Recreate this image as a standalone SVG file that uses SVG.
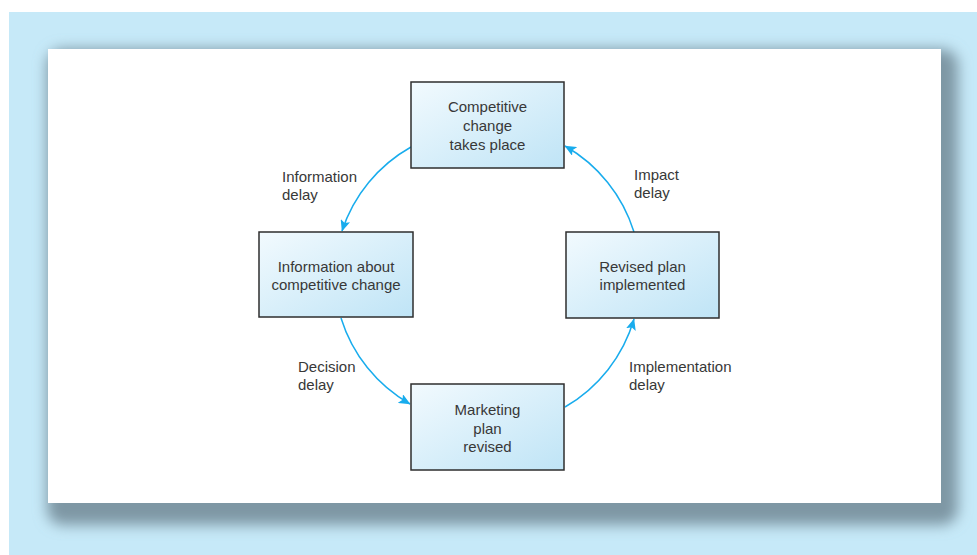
<svg xmlns="http://www.w3.org/2000/svg" width="977" height="555" viewBox="0 0 977 555">
<defs>
<linearGradient id="boxg" x1="0" y1="0" x2="1" y2="1">
<stop offset="0" stop-color="#f2fafe"/>
<stop offset="1" stop-color="#bfe4f6"/>
</linearGradient>
<filter id="blur" x="-10%" y="-10%" width="120%" height="120%">
<feGaussianBlur stdDeviation="7"/>
</filter>
<marker id="ah" viewBox="0 0 12 10" refX="11" refY="5" markerWidth="12" markerHeight="10" markerUnits="userSpaceOnUse" orient="auto">
<path d="M0,0 L11.5,5 L0,10 L2.5,5 Z" fill="#18aced"/>
</marker>
<style>
.node rect{fill:url(#boxg);stroke:#2e2e2e;stroke-width:1.5}
text{font-family:"Liberation Sans",Arial,sans-serif;font-size:15px;fill:#383838}
.c{text-anchor:middle}
.conn path{fill:none;stroke:#18aced;stroke-width:1.5;marker-end:url(#ah)}
</style>
</defs>
<rect x="0" y="0" width="977" height="555" fill="#ffffff"/>
<rect x="9" y="12" width="968" height="543" fill="#c6e9f8"/>
<rect x="47" y="49" width="911" height="476" rx="16" fill="#7e97a4" filter="url(#blur)"/>
<rect x="48" y="49" width="893" height="454" fill="#ffffff"/>

<g class="conn">
<path d="M411,147 A150,150 0 0 0 342,231"/>
<path d="M341,318 A150,150 0 0 0 410,404"/>
<path d="M565,407 A150,150 0 0 0 634,319"/>
<path d="M634,232 A150,150 0 0 0 565,146"/>
</g>

<g id="n-competitive" class="node">
<rect x="411" y="82" width="153" height="86"/>
<text class="c" x="487.5" y="112">Competitive</text>
<text class="c" x="487.5" y="131">change</text>
<text class="c" x="487.5" y="150">takes place</text>
</g>
<g id="n-information" class="node">
<rect x="259" y="232" width="154" height="85"/>
<text class="c" x="336" y="272">Information about</text>
<text class="c" x="336" y="290">competitive change</text>
</g>
<g id="n-revised" class="node">
<rect x="566" y="232" width="153" height="86"/>
<text class="c" x="642.5" y="272">Revised plan</text>
<text class="c" x="642.5" y="290">implemented</text>
</g>
<g id="n-marketing" class="node">
<rect x="411" y="384" width="153" height="86"/>
<text class="c" x="487.5" y="415">Marketing</text>
<text class="c" x="487.5" y="433.5">plan</text>
<text class="c" x="487.5" y="452">revised</text>
</g>

<g id="labels">
<text x="282" y="182">Information</text>
<text x="282" y="200">delay</text>
<text x="634" y="180">Impact</text>
<text x="634" y="198">delay</text>
<text x="298" y="372">Decision</text>
<text x="298" y="390">delay</text>
<text x="629" y="372">Implementation</text>
<text x="629" y="390">delay</text>
</g>
</svg>
